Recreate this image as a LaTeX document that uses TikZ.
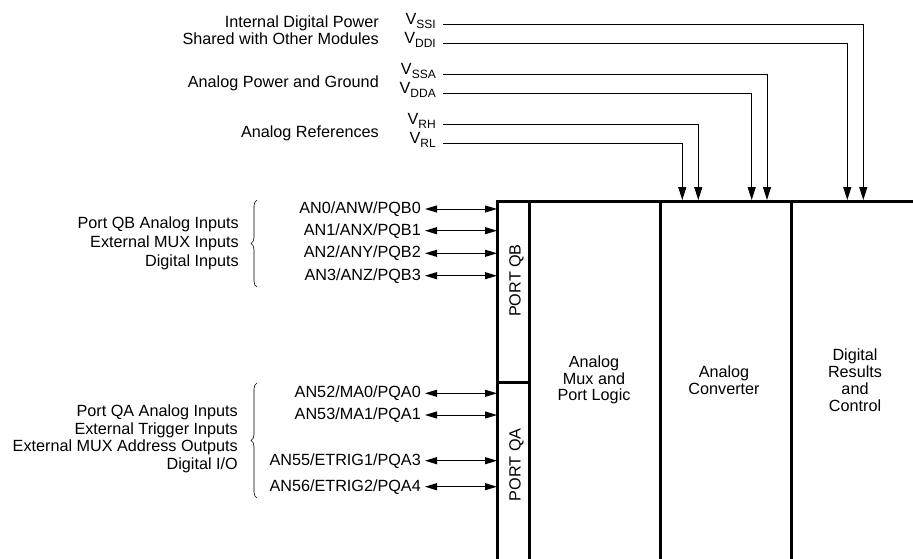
\documentclass[tikz,border=0pt]{standalone}
\usepackage{fontspec}
\setmainfont{Liberation Sans}
\usetikzlibrary{positioning,arrows.meta,decorations.pathreplacing}
\tikzset{
  wall/.style={line width=3pt},
  sig/.style={-{Triangle[length=13pt,width=8pt]},line width=1pt},
  pin/.style={{Triangle[length=12pt,width=7pt]}-{Triangle[length=12pt,width=7pt]},line width=1pt},
  lbl/.style={anchor=east,align=right,inner sep=0pt},
  vlbl/.style={anchor=base east,inner sep=0pt},
  region/.style={inner sep=0pt,anchor=north west},
  grp/.style={decorate,decoration={brace,amplitude=6pt},line width=0.6pt}
}
\newcommand{\Vsub}[1]{V\raisebox{-4pt}{\fontsize{12}{12}\selectfont #1}}

\begin{document}
\begin{tikzpicture}[x=1pt,y=-1pt,font=\fontsize{16.2}{17.5}\selectfont]
\useasboundingbox (0,0) rectangle (913,559);
% module blocks
\node[region,minimum width=32pt,minimum height=181pt] (qb) at (497,201) {};
\node[region,minimum width=32pt,minimum height=177pt] (qa) at (497,382) {};
\node[region,minimum width=131pt,minimum height=358pt] (mux) at (529,201) {};
\node[region,minimum width=131pt,minimum height=358pt] (conv) at (660,201) {};
\node[region,minimum width=122pt,minimum height=358pt] (dig) at (791,201) {};
\draw[wall] (qa.south west) -- (qb.north west) -- (dig.north east);
\draw[wall] (qb.south west) -- (qb.south east);
\foreach \b in {mux,conv,dig} \draw[wall] (\b.north west) -- (\b.south west);
\node[rotate=90] (qb-txt) at (516.5,280.5) {PORT QB};
\node[rotate=90] (qa-txt) at (516.5,464.7) {PORT QA};
\node[align=center,font=\fontsize{16.2}{16.7}\selectfont] (mux-txt) at (594,380) {Analog\\Mux and\\Port Logic};
\node[align=center,font=\fontsize{16.2}{16.7}\selectfont] (conv-txt) at (724,380) {Analog\\Converter};
\node[align=center,font=\fontsize{16.2}{16.9}\selectfont] (dig-txt) at (855,380) {Digital\\Results\\and\\Control};

% supply and reference inputs
\node[lbl] (digpwr) at (379,30) {Internal Digital Power\\Shared with Other Modules};
\node[lbl] (anapwr) at (379,83) {Analog Power and Ground};
\node[lbl] (anaref) at (379,133) {Analog References};
\node[vlbl] (vssi) at (436,24.3) {\Vsub{SSI}};
\node[vlbl] (vddi) at (436,43.3) {\Vsub{DDI}};
\node[vlbl] (vssa) at (436,74.3) {\Vsub{SSA}};
\node[vlbl] (vdda) at (436,93.3) {\Vsub{DDA}};
\node[vlbl] (vrh) at (436,124.3) {\Vsub{RH}};
\node[vlbl] (vrl) at (436,143.3) {\Vsub{RL}};
\coordinate (in-vssi) at (863.3,200);
\coordinate (in-vddi) at (847.3,200);
\coordinate (in-vssa) at (767,200);
\coordinate (in-vdda) at (751.7,200);
\coordinate (in-vrh) at (698.3,200);
\coordinate (in-vrl) at (682.3,200);
\foreach \v in {vssi,vddi,vssa,vdda,vrh,vrl}
  \draw[sig] ([xshift=7pt]\v.base east) -| (in-\v);

% port QB pins
\node[lbl] (pqb0) at (421,209) {AN0/ANW/PQB0};
\node[lbl] (pqb1) at (421,230.7) {AN1/ANX/PQB1};
\node[lbl] (pqb2) at (421,253.3) {AN2/ANY/PQB2};
\node[lbl] (pqb3) at (421,275.7) {AN3/ANZ/PQB3};
\foreach \p in {pqb0,pqb1,pqb2,pqb3}
  \draw[pin] ([xshift=4pt]\p.east) -- (\p.east -| qb.west);
\draw[grp] (257,287) -- (257,200);
\node[lbl,font=\fontsize{16.2}{19}\selectfont] (qb-grp) at (239,243) {Port QB Analog Inputs\\External MUX Inputs\\Digital Inputs};

% port QA pins
\node[lbl] (pqa0) at (421,393.3) {AN52/MA0/PQA0};
\node[lbl] (pqa1) at (421,415) {AN53/MA1/PQA1};
\node[lbl] (pqa3) at (421,460.7) {AN55/ETRIG1/PQA3};
\node[lbl] (pqa4) at (421,486.7) {AN56/ETRIG2/PQA4};
\foreach \p in {pqa0,pqa1,pqa3,pqa4}
  \draw[pin] ([xshift=4pt]\p.east) -- (\p.east -| qa.west);
\draw[grp] (257,498) -- (257,383);
\node[lbl] (qa-grp) at (238,439) {Port QA Analog Inputs\\External Trigger Inputs\\External MUX Address Outputs\\Digital I/O};
\end{tikzpicture}
\end{document}
